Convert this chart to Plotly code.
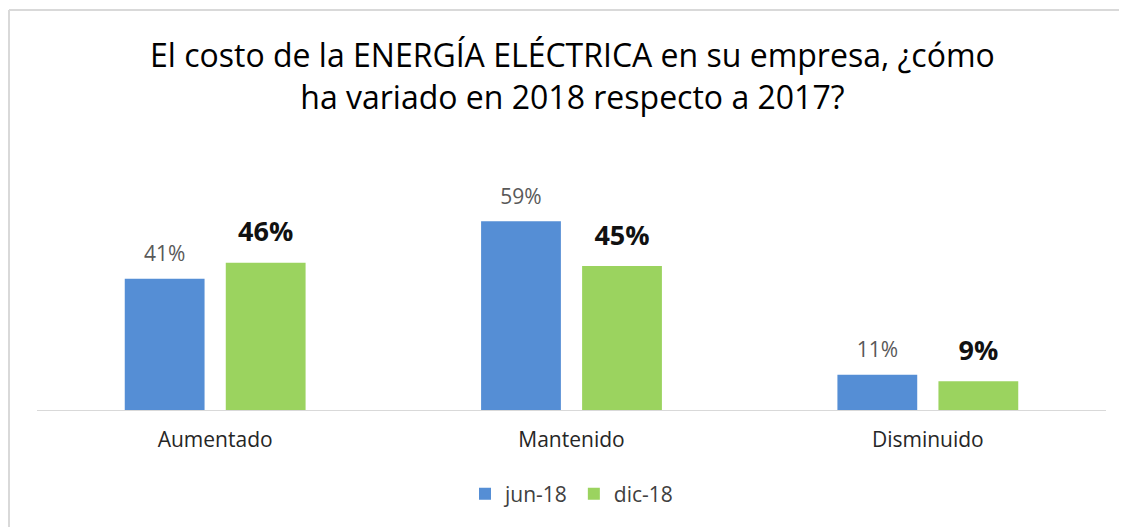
import plotly.graph_objects as go

categories = ["Aumentado", "Mantenido", "Disminuido"]
series_names = ["jun-18", "dic-18"]
jun18 = [41, 59, 11]
dic18 = [46, 45, 9]
title_lines = ["El costo de la ENERGÍA ELÉCTRICA en su empresa, ¿cómo",
               "ha variado en 2018 respecto a 2017?"]

FONT = "'Open Sans', Lato, sans-serif"
OFF = 8  # page body margin
W, H = 1127 - OFF, 527 - OFF
ML, MR, MT, MB = 37 - OFF, 1127 - 1106, 150 - OFF, 527 - 410
PW, PH = W - ML - MR, H - MT - MB


def px_x(p):
    return (p - OFF - ML) / PW


def px_y(p):
    return (H - MB - (p - OFF)) / PH


fig = go.Figure()
fig.add_trace(go.Bar(
    x=categories, y=jun18, name=series_names[0],
    marker=dict(color="#558ED5", line=dict(width=0)),
    offsetgroup="a", alignmentgroup="g",
))
fig.add_trace(go.Bar(
    x=categories, y=dic18, name=series_names[1],
    marker=dict(color="#9BD35F", line=dict(width=0)),
    offsetgroup="b", alignmentgroup="g",
))
# data labels (placed above the bars, through the same grouped offsets)
fig.add_trace(go.Scatter(
    x=categories, y=jun18, mode="markers+text", showlegend=False,
    offsetgroup="a", alignmentgroup="g",
    marker=dict(size=18, opacity=0), hoverinfo="skip",
    text=[f"{v}%" for v in jun18], textposition="top center",
    textfont=dict(family=FONT, size=21, color="#595959"),
    cliponaxis=False,
))
fig.add_trace(go.Scatter(
    x=categories, y=dic18, mode="markers+text", showlegend=False,
    offsetgroup="b", alignmentgroup="g",
    marker=dict(size=22, opacity=0), hoverinfo="skip",
    text=[f"<b>{v}%</b>" for v in dic18], textposition="top center",
    textfont=dict(family=FONT, size=27, color="#111111"),
    cliponaxis=False,
))

fig.add_annotation(
    text="<br>".join(title_lines), xref="paper", yref="paper",
    x=px_x(572), y=px_y(76), xanchor="center", yanchor="middle",
    showarrow=False, align="center",
    font=dict(family=FONT, size=32, color="#000000"),
)

# chart border (top and left edges visible)
fig.add_shape(type="line", xref="paper", yref="paper",
              x0=px_x(9), x1=px_x(1140), y0=px_y(10), y1=px_y(10),
              line=dict(color="#D9D9D9", width=2))
fig.add_shape(type="line", xref="paper", yref="paper",
              x0=px_x(9), x1=px_x(9), y0=px_y(10), y1=px_y(540),
              line=dict(color="#D9D9D9", width=2))

fig.update_layout(
    width=W, height=H,
    margin=dict(l=ML, r=MR, t=MT, b=MB),
    barmode="group", bargap=0.433, bargroupgap=0.21,
    scattermode="group", scattergap=0.433,
    plot_bgcolor="white", paper_bgcolor="white",
    font=dict(family=FONT, color="#404040"),
    showlegend=True,
    legend=dict(orientation="h", x=0.5, xanchor="center",
                y=px_y(494), yanchor="middle",
                font=dict(family=FONT, size=21, color="#404040"),
                itemwidth=30, traceorder="normal"),
    xaxis=dict(showline=True, linecolor="#D9D9D9", linewidth=1,
               showgrid=False, ticks="", ticklabelstandoff=11,
               tickfont=dict(family=FONT, size=21, color="#262626")),
    yaxis=dict(range=[0, PH / 3.2], visible=False, showgrid=False,
               zeroline=False),
)

fig.write_html("out.html")
